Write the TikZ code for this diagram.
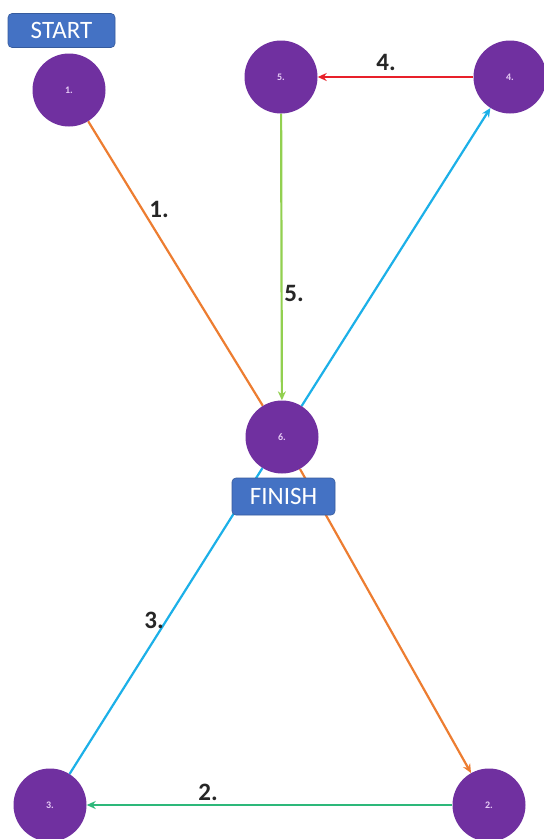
\documentclass[tikz,border=0pt]{standalone}
\usepackage{fontspec}
\setmainfont{Carlito}
\usetikzlibrary{arrows.meta,backgrounds}
\definecolor{nodepurple}{HTML}{7030A0}
\definecolor{boxblue}{HTML}{4472C4}
\definecolor{eorange}{HTML}{ED7D31}
\definecolor{ecyan}{HTML}{1CB0E8}
\definecolor{ered}{HTML}{E8202A}
\definecolor{egreen}{HTML}{2DB87A}
\definecolor{elime}{HTML}{92D050}
\definecolor{numtxt}{HTML}{E6CCF5}
\tikzset{
  stop/.style={circle,fill=nodepurple,minimum size=73pt,inner sep=0pt,
    font=\fontsize{10}{11}\selectfont\bfseries,text=numtxt},
  tag/.style={rectangle,rounded corners=4pt,fill=boxblue,draw=boxblue!80!black,line width=0.6pt,
    text=white,font=\fontsize{25}{28}\selectfont,inner sep=0pt},
  edge/.style={line width=2.2pt},
  arr/.style={edge,-{Stealth[length=9pt,width=8pt]}},
  elabel/.style={font=\fontsize{25}{28}\selectfont\bfseries,text=black!85}
}
\begin{document}
\begin{tikzpicture}[x=1pt,y=-1pt]
\useasboundingbox (0,0) rectangle (544,839);
\node[stop] (n1) at (69,90) {1.};
\node[stop] (n5) at (281,77) {5.};
\node[stop] (n4) at (510,77) {4.};
\node[stop] (n6) at (282,437) {6.};
\node[stop] (n3) at (50,805) {3.};
\node[stop] (n2) at (489,805) {2.};
\node[tag,minimum width=107pt,minimum height=34pt] (start) at (61.5,30.5) {START};
\node[tag,minimum width=103pt,minimum height=37pt] (finish) at (283.5,496.5) {FINISH};
\begin{scope}[on background layer]
\fill[white] (0,0) rectangle (544,839);
\draw[edge,eorange] (n1) -- (n6);
\draw[arr,eorange] (n6) -- (n2);
\draw[arr,egreen] (n2) -- (n3);
\draw[edge,ecyan] (n3) -- (n6);
\draw[arr,ecyan] (n6) -- (n4);
\draw[arr,ered] (n4) -- (n5);
\draw[arr,elime] (n5) -- (n6);
\end{scope}
\node[elabel] (l1) at (159,209) {1.};
\node[elabel] (l5) at (294,293) {5.};
\node[elabel] (l4) at (386,62) {4.};
\node[elabel] (l3) at (154,620) {3.};
\node[elabel] (l2) at (208,792) {2.};
\end{tikzpicture}
\end{document}
